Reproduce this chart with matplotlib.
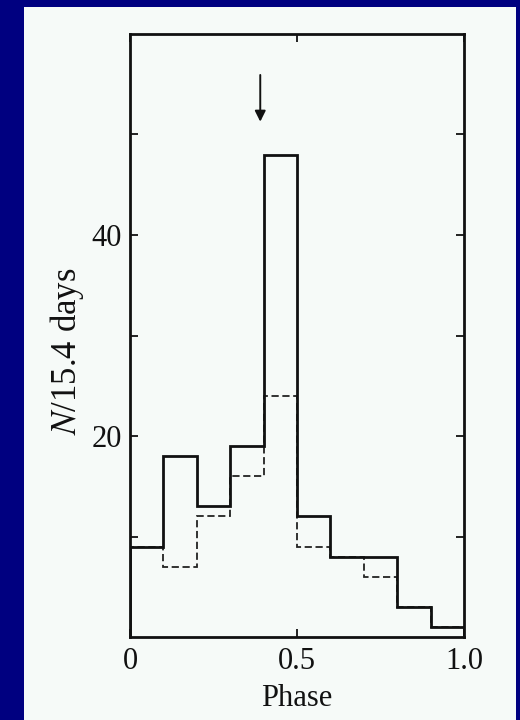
import matplotlib
matplotlib.use('Agg')
import matplotlib.pyplot as plt
from matplotlib.patches import Rectangle

phase_edges = [0.0, 0.1, 0.2, 0.3, 0.4, 0.5, 0.6, 0.7, 0.8, 0.9, 1.0]
counts_solid = [9, 18, 13, 19, 48, 12, 8, 8, 3, 1]
counts_dashed = [9, 7, 12, 16, 24, 9, 8, 6, 3, 1]
arrow_phase = 0.39
xtick_vals = [0, 0.5, 1.0]
xtick_labels = ['0', '0.5', '1.0']
ytick_vals = [10, 20, 30, 40, 50]
ytick_labels = ['', '20', '', '40', '']

plt.rcParams['font.family'] = 'Liberation Serif'
plt.rcParams['mathtext.fontset'] = 'stix'

W, H = 520, 720
fig = plt.figure(figsize=(W / 100, H / 100), dpi=100, facecolor='#000080')
# white paper panel, kept behind the axes
fig.patches.append(Rectangle((24 / W, 0), (516 - 24) / W, (720 - 7) / H,
                             transform=fig.transFigure, facecolor='#f6faf8',
                             edgecolor='none', zorder=-10))

ax = fig.add_axes([130 / W, (H - 637) / H, (464 - 130) / W, (637 - 34) / H])
ax.set_zorder(5)
ax.set_facecolor('#f6faf8')

ax.stairs(counts_dashed, phase_edges, color='#222222', lw=1.3, ls=(0, (4, 2)))
ax.stairs(counts_solid, phase_edges, color='#111111', lw=2.0)

ax.annotate('', xy=(arrow_phase, 51.0), xytext=(arrow_phase, 56.2),
            arrowprops=dict(arrowstyle='-|>', color='#111111', lw=1.4,
                            mutation_scale=16))

ax.set_xlim(0, 1.0)
ax.set_ylim(0, 60)
ax.set_xticks(xtick_vals)
ax.set_xticklabels(xtick_labels)
ax.set_yticks(ytick_vals)
ax.set_yticklabels(ytick_labels)
ax.tick_params(direction='in', top=True, right=True, length=6, width=1.3,
               labelsize=22, colors='#111111', pad=7)
ax.tick_params(axis='y', pad=6)
for s in ax.spines.values():
    s.set_linewidth(2)
    s.set_color('#111111')

ax.set_xlabel('Phase', fontsize=22, color='#111111', labelpad=6)
ax.set_ylabel('$N$/15.4 days', fontsize=25, color='#111111')
ax.yaxis.set_label_coords(-0.133, 0.474)

plt.savefig('out.png', dpi=100, facecolor=fig.get_facecolor())
